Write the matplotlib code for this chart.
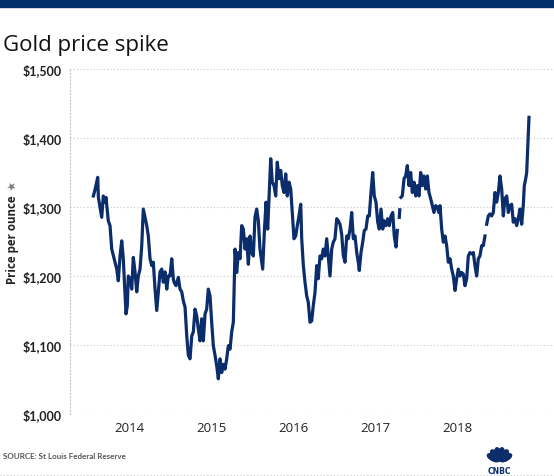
import numpy as np
import matplotlib
matplotlib.use("Agg")
import matplotlib.pyplot as plt
from matplotlib.patches import Ellipse, Rectangle

# decimal year, price per ounce; nan = missing data
years = [
    2013.559, 2013.579, 2013.612, 2013.620, 2013.640, 2013.661, 2013.680, 2013.701,
    2013.713, 2013.741, 2013.762, 2013.783, 2013.823, 2013.844, 2013.863, 2013.884,
    2013.905, 2013.924, 2013.945, 2013.957, 2013.973, 2013.985, 2014.006, 2014.027,
    2014.046, 2014.067, 2014.088, 2014.107, 2014.128, 2014.149, 2014.168, 2014.189,
    2014.210, 2014.229, 2014.250, 2014.271, 2014.290, 2014.311, 2014.332, 2014.351,
    2014.372, 2014.393, 2014.412, 2014.433, 2014.454, 2014.473, 2014.494, 2014.515,
    2014.534, 2014.543, 2014.567, 2014.595, 2014.616, 2014.637, 2014.656, 2014.677,
    2014.698, 2014.717, 2014.738, 2014.759, 2014.778, 2014.799, 2014.820, 2014.839,
    2014.860, 2014.880, 2014.900, 2014.921, 2014.941, 2014.961, 2014.982, 2015.002,
    2015.022, 2015.043, 2015.063, 2015.083, 2015.104, 2015.124, 2015.144, 2015.165,
    2015.185, 2015.205, 2015.226, 2015.246, 2015.266, 2015.287, 2015.307, 2015.327,
    2015.348, 2015.368, 2015.388, 2015.409, 2015.429, 2015.449, 2015.470, 2015.490,
    2015.510, 2015.530, 2015.551, 2015.571, 2015.591, 2015.612, 2015.624, 2015.644,
    2015.665, 2015.685, 2015.701, 2015.722, 2015.741, 2015.762, 2015.783, 2015.802,
    2015.823, 2015.844, 2015.863, 2015.884, 2015.905, 2015.924, 2015.945, 2015.966,
    2015.985, 2016.006, 2016.027, 2016.046, 2016.067, 2016.088, 2016.100, 2016.120,
    2016.140, 2016.161, 2016.180, 2016.201, 2016.222, 2016.241, 2016.262, 2016.283,
    2016.302, 2016.323, 2016.344, 2016.363, 2016.384, 2016.405, 2016.424, 2016.445,
    2016.466, 2016.485, 2016.506, 2016.527, 2016.546, 2016.567, 2016.588, 2016.607,
    2016.628, 2016.649, 2016.668, 2016.689, 2016.710, 2016.729, 2016.750, 2016.771,
    2016.790, 2016.802, 2016.823, 2016.844, 2016.863, 2016.884, 2016.905, 2016.924,
    2016.945, 2016.966, 2016.985, 2017.006, 2017.027, 2017.046, 2017.067, 2017.088,
    2017.107, 2017.128, 2017.149, 2017.168, 2017.189, 2017.210, 2017.229, 2017.250,
    2017.266, 2017.278, 2017.290, 2017.296, 2017.301, 2017.310, 2017.327, 2017.348,
    2017.368, 2017.388, 2017.409, 2017.429, 2017.449, 2017.470, 2017.490, 2017.510,
    2017.530, 2017.551, 2017.571, 2017.591, 2017.612, 2017.632, 2017.652, 2017.673,
    2017.693, 2017.713, 2017.734, 2017.754, 2017.774, 2017.787, 2017.807, 2017.827,
    2017.848, 2017.868, 2017.888, 2017.909, 2017.929, 2017.949, 2017.970, 2017.990,
    2018.010, 2018.030, 2018.051, 2018.071, 2018.091, 2018.112, 2018.132, 2018.152,
    2018.173, 2018.193, 2018.213, 2018.234, 2018.254, 2018.274, 2018.295, 2018.315,
    2018.335, 2018.345, 2018.356, 2018.376, 2018.396, 2018.417, 2018.437, 2018.457,
    2018.478, 2018.498, 2018.518, 2018.539, 2018.559, 2018.579, 2018.600, 2018.620,
    2018.640, 2018.661, 2018.680, 2018.701, 2018.722, 2018.741, 2018.762, 2018.783,
    2018.802, 2018.815, 2018.832, 2018.844, 2018.856, 2018.872,
]
nan = np.nan
price = [
    1316, 1325, 1343, 1314, 1300, 1285, 1316, 1307,
    1314, 1280, 1273, 1239, 1220, 1210, 1193, 1229,
    1251, 1225, 1174, 1145, 1157, 1200, 1196, 1181,
    1227, 1206, 1177, 1200, 1210, 1244, 1297, 1285,
    1273, 1258, 1225, 1215, 1220, 1181, 1150, 1177,
    1206, 1210, 1191, 1206, 1181, 1200, 1200, 1225,
    1196, 1191, 1186, 1198, 1181, 1177, 1164, 1155,
    1113, 1085, 1080, 1113, 1119, 1152, 1142, 1123,
    1106, 1138, 1106, 1145, 1152, 1181, 1171, 1133,
    1099, 1085, 1070, 1051, 1080, 1060, 1072, 1065,
    1080, 1099, 1094, 1119, 1133, 1239, 1205, 1234,
    1225, 1273, 1268, 1239, 1254, 1217, 1258, 1234,
    1229, 1285, 1297, 1280, 1239, 1220, 1210, 1263,
    1307, 1268, 1312, 1370, 1336, 1331, 1316, 1365,
    1341, 1353, 1331, 1321, 1348, 1316, 1336, 1326,
    1292, 1254, 1258, 1273, 1287, 1304, 1254, 1215,
    1191, 1171, 1162, 1133, 1135, 1157, 1176, 1215,
    1196, 1229, 1225, 1239, 1229, 1254, 1229, 1200,
    1239, 1249, 1254, 1283, 1280, 1275, 1260, 1230,
    1220, 1258, 1254, 1268, 1292, 1254, 1258, 1234,
    1220, 1208, 1234, 1249, 1266, 1268, 1287, 1287,
    1321, 1350, 1316, 1307, 1278, 1268, 1297, 1268,
    1280, 1273, 1283, 1273, 1287, 1292, 1258, 1242,
    1266, nan, 1285, 1296, nan, 1314, 1316, 1341,
    1345, 1360, 1331, 1350, 1321, 1336, 1316, 1331,
    1316, 1350, 1331, 1345, 1326, 1345, 1321, 1312,
    1302, 1292, 1302, 1300, 1292, 1302, 1268, 1249,
    1258, 1244, 1220, 1225, 1210, 1200, 1179, 1196,
    1210, 1200, 1205, 1203, 1186, 1196, 1229, 1234,
    1232, 1234, 1215, 1200, 1225, 1229, 1244, 1244,
    1258, nan, 1275, 1287, 1290, 1287, 1292, 1321,
    1307, 1321, 1345, 1326, 1287, 1312, 1316, 1292,
    1302, 1304, 1278, 1283, 1273, 1283, 1297, 1275,
    1302, 1331, 1341, 1350, 1384, 1430,
]

year_ticks = [2014, 2015, 2016, 2017, 2018]
price_ticks = [1000, 1100, 1200, 1300, 1400, 1500]

navy = "#0b2d6b"
W, H = 554, 477

fig = plt.figure(figsize=(W / 100, H / 100), dpi=100)
fig.patches.append(Rectangle((0, 1 - 8 / H), 1, 8 / H, transform=fig.transFigure,
                             color="#002f6c", zorder=0))

ax = fig.add_axes([70 / W, 62 / H, 484 / W, 345 / H])
ax.plot(years, price, color=navy, lw=2.3, solid_joinstyle="round")

ax.set_xlim(2013.274, 2019.177)
ax.set_ylim(1000, 1500)
ax.set_xticks(year_ticks)
ax.set_xticklabels([str(y) for y in year_ticks], fontsize=9.5, color="#222222",
                   family="Open Sans")
ax.set_yticks(price_ticks)
ax.set_yticklabels(["${:,}".format(p) for p in price_ticks], fontsize=9,
                   fontweight="bold", color="#222222", family="Lato")
ax.tick_params(axis="y", length=0, pad=6)
ax.tick_params(axis="x", length=0, pad=5)
ax.grid(axis="y", ls=(0, (1, 2)), color="#c8c8c8", lw=0.8)
for s in ["top", "right", "bottom"]:
    ax.spines[s].set_visible(False)
ax.spines["left"].set_linestyle((0, (1, 2)))
ax.spines["left"].set_color("#c8c8c8")
ax.spines["left"].set_linewidth(0.8)

fig.text(13 / W, 1 - 240 / H, "Price per ounce", rotation=90, ha="center",
         va="center", fontsize=8.3, fontweight="bold", color="#222222",
         family="Open Sans")
fig.text(12 / W, 1 - 188 / H, "\u2605", rotation=30, ha="center", va="center",
         fontsize=8, color="#7a7a7a")

fig.text(3 / W, 1 - 45 / H, "Gold price spike", ha="left", va="center",
         fontsize=16, color="#111111", family="Open Sans")

fig.text(3 / W, 1 - 457 / H, "SOURCE: St Louis Federal Reserve", ha="left",
         va="center", fontsize=5.8, fontweight="bold", color="#555555",
         family="Lato")

# bottom dotted rule
fig.add_artist(plt.Line2D([0, 1], [1 - 476 / H] * 2, transform=fig.transFigure,
                          ls=(0, (1, 2)), color="#c8c8c8", lw=0.8))

# CNBC peacock
for ang in [-62, -37, -12, 12, 37, 62]:
    e = Ellipse(((499.5 + 7 * np.sin(np.radians(ang))) / 100,
                 (H - 462 + 7 * np.cos(np.radians(ang))) / 100),
                0.06, 0.13, angle=-ang, transform=fig.dpi_scale_trans, color=navy)
    fig.patches.append(e)
fig.text(499.5 / W, 1 - 472 / H, "CNBC", ha="center", va="center", fontsize=5.5,
         fontweight="bold", color=navy)

fig.savefig("out.png", dpi=100)
